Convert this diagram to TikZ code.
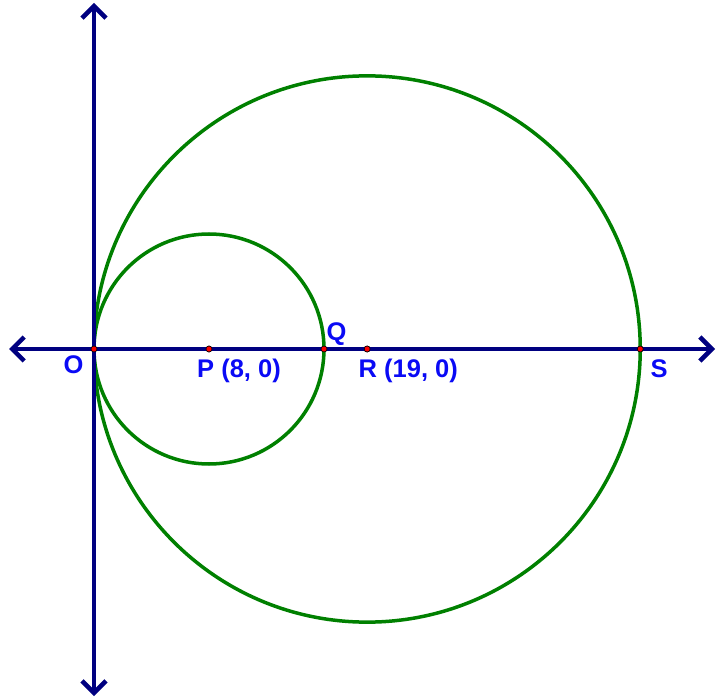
\documentclass[tikz,border=0pt]{standalone}
\usepackage{fontspec}
\setmainfont{Liberation Sans}
\usetikzlibrary{arrows.meta, positioning}
\definecolor{axisnavy}{RGB}{0,0,128}
\definecolor{circgreen}{RGB}{0,128,0}
\definecolor{lblblue}{RGB}{10,10,245}

\begin{document}
\begin{tikzpicture}[x=14.375pt, y=14.375pt,
    axis/.style={draw=axisnavy, line width=4.5pt, {Straight Barb[length=12pt, width=24pt]}-{Straight Barb[length=12pt, width=24pt]}},
    circ/.style={draw=circgreen, line width=3.5pt},
    dot/.style={circle, fill=red, draw=black, line width=0.6pt, inner sep=0pt, minimum size=6pt},
    lbl/.style={text=lblblue, font=\bfseries\fontsize{25.5}{30}\selectfont, inner sep=0pt, anchor=base west}]
    \useasboundingbox (-6.539,-24.417) rectangle (43.339,24.278);

    % points on the x-axis
    \node (O) [dot] at (0,0) {};
    \node (P) [dot] at (8,0) {};
    \node (Q) [dot] at (16,0) {};
    \node (R) [dot] at (19,0) {};
    \node (S) [dot] at (38,0) {};

    % axis ends
    \coordinate (Xleft) at (-5.91,0);
    \coordinate (Xright) at (43.2,0);
    \coordinate (Ytop) at (0,24.07);
    \coordinate (Ybottom) at (0,-24.14);

    % the two circles
    \draw[circ] (P.center) circle [radius=115pt];
    \draw[circ] (R.center) circle [radius=273.125pt];

    \draw[axis] (Xleft) -- (Xright);
    \draw[axis] (Ybottom) -- (Ytop);

    % redraw the points over the axes
    \foreach \pt in {O, P, Q, R, S}
        \node[dot] at (\pt) {};

    \node (Olbl) [lbl] at (-2.12,-1.67) {O};
    \node (Plbl) [lbl] at (7.165,-2.017) {P (8, 0)};
    \node (Qlbl) [lbl] at (16.17,0.557) {Q};
    \node (Rlbl) [lbl] at (18.40,-2.017) {R (19, 0)};
    \node (Slbl) [lbl] at (38.71,-2.017) {S};
\end{tikzpicture}
\end{document}
